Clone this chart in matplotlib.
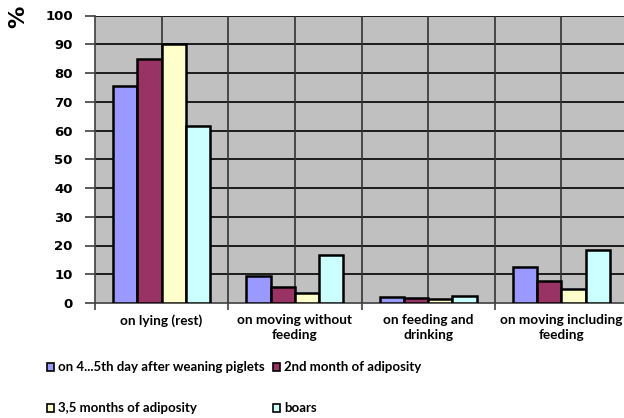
import matplotlib
matplotlib.use('Agg')
import matplotlib.pyplot as plt
from matplotlib.patches import Rectangle
import numpy as np

# categories of behaviour and the four animal groups
categories = ['on lying (rest)', 'on moving without\nfeeding',
              'on feeding and\ndrinking', 'on moving including\nfeeding']
series_names = ['on 4...5th day after weaning piglets', '2nd month of adiposity',
                '3,5 months of adiposity', 'boars']
piglets = [75.5, 9.5, 2.1, 12.5]
month2 = [85.0, 5.6, 1.6, 7.7]
month35 = [90.0, 3.5, 1.3, 4.9]
boars = [61.6, 16.8, 2.4, 18.4]
colors = ['#9999FF', '#993366', '#FFFFCC', '#CCFFFF']

yticks = list(range(0, 101, 10))

W, H = 624, 418
fig = plt.figure(figsize=(W / 100, H / 100), dpi=100)
ax = fig.add_axes([95 / W, (H - 303) / H, (628 - 95) / W, (303 - 15.5) / H])
ax.set_facecolor('#C0C0C0')

x = np.arange(len(categories))
bar_w = 1 / 5.5
for i, vals in enumerate([piglets, month2, month35, boars]):
    ax.bar(x + (i - 1.5) * bar_w, vals, width=bar_w, color=colors[i],
           edgecolor='black', linewidth=1.8, zorder=3)

ax.set_xlim(-0.5, len(categories) - 0.5)
ax.set_ylim(0, 100)

# grid: horizontal every 10, vertical at group edges and centres
for y in yticks[1:]:
    ax.axhline(y, color='black', lw=1.2, zorder=1)
for xv in np.arange(-0.5, len(categories), 0.5)[1:]:
    ax.axvline(xv, color='#333333', lw=1.2, zorder=1)

for s in ['top', 'right']:
    ax.spines[s].set_visible(False)
ax.spines['left'].set_color('#404040')
ax.spines['bottom'].set_color('#404040')
ax.spines['left'].set_linewidth(1.2)
ax.spines['bottom'].set_linewidth(1.2)

ax.set_yticks(yticks)
ax.set_yticklabels([str(v) for v in yticks], fontsize=9.5, fontweight='bold',
                   family='DejaVu Sans')
ax.tick_params(axis='y', length=7, width=1.2, color='#404040', pad=9)

ax.set_xticks(np.arange(-0.5, len(categories), 1.0))
ax.set_xticklabels([])
ax.tick_params(axis='x', length=5, width=1.2, color='#404040')
for xi, lab in zip(x, categories):
    ax.text(xi, -4.0, lab, ha='center', va='top', fontsize=9.8,
            fontweight='bold', family='Lato', linespacing=1.25)

fig.text(18 / W, 1 - 17 / H, '%', rotation=90, ha='center', va='center',
         fontsize=16, fontweight='bold', family='DejaVu Sans')

# legend drawn by hand in two columns
leg_pos = [(47, 367), (273, 367), (47, 408), (273, 408)]
for (px, py), name, c in zip(leg_pos, series_names, colors):
    fig.patches.append(Rectangle((px / W, 1 - (py + 4) / H), 7 / W, 8 / H,
                                 transform=fig.transFigure, facecolor=c,
                                 edgecolor='black', linewidth=1.2))
    fig.text((px + 11) / W, 1 - py / H, name, ha='left', va='center',
             fontsize=9.5, fontweight='bold', family='Lato')

fig.savefig('out.png', dpi=100)
